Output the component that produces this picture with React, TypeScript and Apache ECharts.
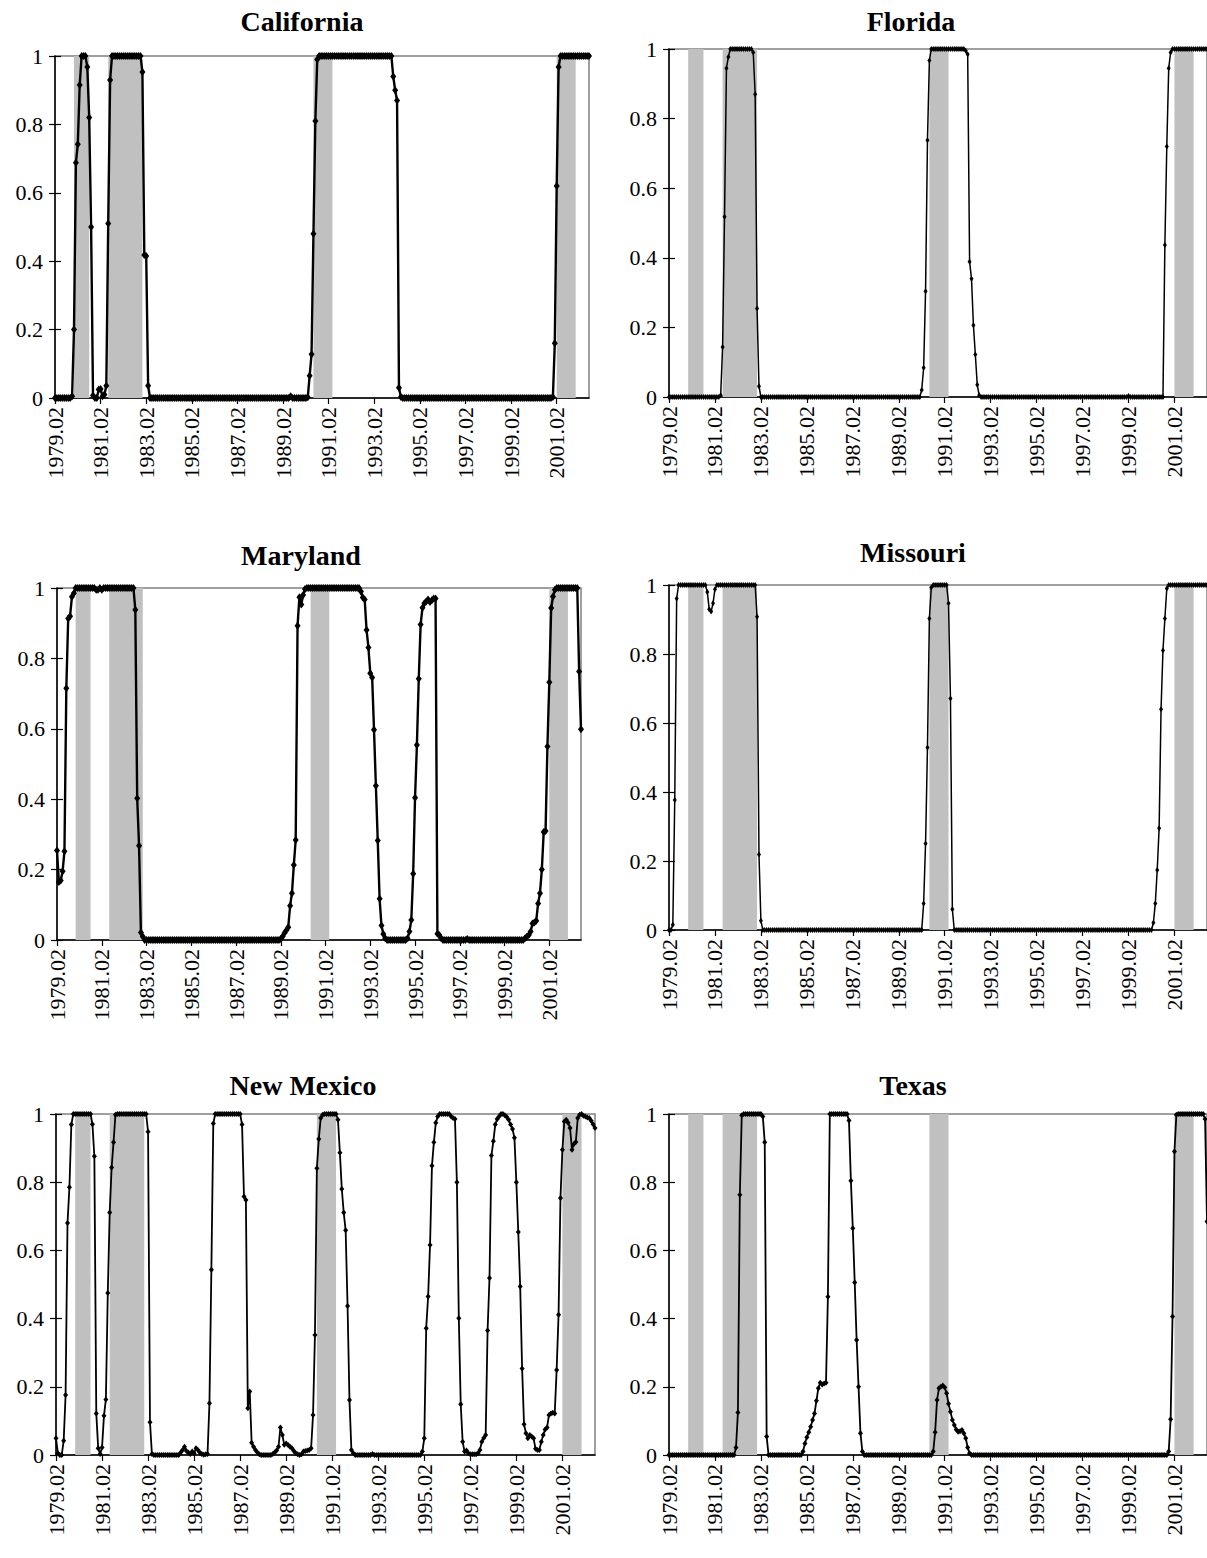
import React, { useEffect, useRef } from "react";
import * as echarts from "echarts";

// ---------- categories (monthly, 1979.02 .. 2002.07) ----------
const START_YEAR = 1979;
const START_MONTH = 2;
const N_MONTHS = 282;
const months: string[] = [];
for (let i = 0; i < N_MONTHS; i++) {
  const m = START_MONTH - 1 + i;
  const y = START_YEAR + Math.floor(m / 12);
  const mm = (m % 12) + 1;
  months.push(`${y}.${mm < 10 ? "0" + mm : mm}`);
}

// ---------- recession bands (shaded) ----------
const recessionStart = ["1979.12", "1981.06", "1990.06", "2001.02"];
const recessionEnd = ["1980.08", "1982.12", "1991.04", "2001.12"];

// ---------- series values (one row = 12 months, starting Feb) ----------
const california = [
  0, 0, 0, 0, 0, 0, 0, 0, 0, 0.005, 0.2, 0.688,
  0.742, 0.915, 1, 1, 1, 0.968, 0.82, 0.5, 0.007, 0, 0, 0.025,
  0.026, 0.005, 0.01, 0.036, 0.51, 0.93, 1, 1, 1, 1, 1, 1,
  1, 1, 1, 1, 1, 1, 1, 1, 1, 1, 0.953, 0.418,
  0.415, 0.036, 0, 0, 0, 0, 0, 0, 0, 0, 0, 0,
  0, 0, 0, 0, 0, 0, 0, 0, 0, 0, 0, 0,
  0, 0, 0, 0, 0, 0, 0, 0, 0, 0, 0, 0,
  0, 0, 0, 0, 0, 0, 0, 0, 0, 0, 0, 0,
  0, 0, 0, 0, 0, 0, 0, 0, 0, 0, 0, 0,
  0, 0, 0, 0, 0, 0, 0, 0, 0, 0, 0, 0,
  0, 0, 0, 0, 0.005, 0, 0, 0, 0, 0, 0, 0,
  0, 0.002, 0.065, 0.128, 0.48, 0.81, 0.99, 1, 1, 1, 1, 1,
  1, 1, 1, 1, 1, 1, 1, 1, 1, 1, 1, 1,
  1, 1, 1, 1, 1, 1, 1, 1, 1, 1, 1, 1,
  1, 1, 1, 1, 1, 1, 1, 1, 1, 1, 0.94, 0.9,
  0.87, 0.03, 0.003, 0, 0, 0, 0, 0, 0, 0, 0, 0,
  0, 0, 0, 0, 0, 0, 0, 0, 0, 0, 0, 0,
  0, 0, 0, 0, 0, 0, 0, 0, 0, 0, 0, 0,
  0, 0, 0, 0, 0, 0, 0, 0, 0, 0, 0, 0,
  0, 0, 0, 0, 0, 0, 0, 0, 0, 0, 0, 0,
  0, 0, 0, 0, 0, 0, 0, 0, 0, 0, 0, 0,
  0, 0, 0, 0, 0, 0, 0, 0, 0, 0, 0.003, 0.16,
  0.62, 0.968, 1, 1, 1, 1, 1, 1, 1, 1, 1, 1,
  1, 1, 1, 1, 1, 1,
];

const florida = [
  0, 0, 0, 0, 0, 0, 0, 0, 0, 0, 0, 0,
  0, 0, 0, 0, 0, 0, 0, 0, 0, 0, 0, 0,
  0, 0, 0, 0.005, 0.144, 0.518, 0.945, 0.977, 1, 1, 1, 1,
  1, 1, 1, 1, 1, 1, 1, 1, 0.99, 0.87, 0.254, 0.031,
  0, 0, 0, 0, 0, 0, 0, 0, 0, 0, 0, 0,
  0, 0, 0, 0, 0, 0, 0, 0, 0, 0, 0, 0,
  0, 0, 0, 0, 0, 0, 0, 0, 0, 0, 0, 0,
  0, 0, 0, 0, 0, 0, 0, 0, 0, 0, 0, 0,
  0, 0, 0, 0, 0, 0, 0, 0, 0, 0, 0, 0,
  0, 0, 0, 0, 0, 0, 0, 0, 0, 0, 0, 0,
  0, 0, 0, 0, 0, 0, 0, 0, 0, 0, 0, 0,
  0.02, 0.084, 0.304, 0.738, 0.967, 1, 1, 1, 1, 1, 1, 1,
  1, 1, 1, 1, 1, 1, 1, 1, 1, 1, 1, 0.995,
  0.985, 0.389, 0.34, 0.206, 0.122, 0.035, 0.005, 0, 0, 0, 0, 0,
  0, 0, 0, 0, 0, 0, 0, 0, 0, 0, 0, 0,
  0, 0, 0, 0, 0, 0, 0, 0, 0, 0, 0, 0,
  0, 0, 0, 0, 0, 0, 0, 0, 0, 0, 0, 0,
  0, 0, 0, 0, 0, 0, 0, 0, 0, 0, 0, 0,
  0, 0, 0, 0, 0, 0, 0, 0, 0, 0, 0, 0,
  0, 0, 0, 0, 0, 0, 0, 0, 0, 0, 0, 0,
  0.003, 0, 0, 0, 0, 0, 0, 0, 0, 0, 0, 0,
  0, 0, 0, 0, 0, 0, 0, 0.437, 0.72, 0.945, 0.99, 1,
  1, 1, 1, 1, 1, 1, 1, 1, 1, 1, 1, 1,
  1, 1, 1, 1, 1, 1,
];

const maryland = [
  0.254, 0.165, 0.169, 0.195, 0.252, 0.715, 0.913, 0.92, 0.975, 0.985, 1, 1,
  1, 1, 1, 1, 1, 1, 1, 1, 1, 0.995, 0.995, 1,
  0.995, 1, 1, 1, 1, 1, 1, 1, 1, 1, 1, 1,
  1, 1, 1, 1, 1, 1, 0.938, 0.403, 0.268, 0.021, 0.01, 0,
  0, 0, 0, 0, 0, 0, 0, 0, 0, 0, 0, 0,
  0, 0, 0, 0, 0, 0, 0, 0, 0, 0, 0, 0,
  0, 0, 0, 0, 0, 0, 0, 0, 0, 0, 0, 0,
  0, 0, 0, 0, 0, 0, 0, 0, 0, 0, 0, 0,
  0, 0, 0, 0, 0, 0, 0, 0, 0, 0, 0, 0,
  0, 0, 0, 0, 0, 0, 0, 0, 0, 0, 0, 0,
  0.003, 0.01, 0.02, 0.028, 0.036, 0.097, 0.133, 0.213, 0.284, 0.893, 0.974, 0.953,
  0.98, 0.997, 1, 1, 1, 1, 1, 1, 1, 1, 1, 1,
  1, 1, 1, 1, 1, 1, 1, 1, 1, 1, 1, 1,
  1, 1, 1, 1, 1, 1, 1, 0.99, 0.973, 0.967, 0.881, 0.831,
  0.758, 0.746, 0.597, 0.438, 0.283, 0.117, 0.041, 0.017, 0.005, 0, 0, 0,
  0, 0, 0, 0, 0, 0, 0, 0, 0.005, 0.024, 0.057, 0.188,
  0.404, 0.554, 0.742, 0.896, 0.944, 0.957, 0.962, 0.967, 0.96, 0.965, 0.97, 0.97,
  0.018, 0.014, 0.005, 0, 0, 0, 0, 0, 0, 0, 0, 0,
  0, 0, 0, 0, 0.003, 0, 0, 0, 0, 0, 0, 0,
  0, 0, 0, 0, 0, 0, 0, 0, 0, 0, 0, 0,
  0, 0, 0, 0, 0, 0, 0, 0, 0, 0, 0, 0.005,
  0.01, 0.014, 0.024, 0.047, 0.05, 0.055, 0.104, 0.133, 0.2, 0.307, 0.31, 0.55,
  0.732, 0.943, 0.976, 0.995, 1, 1, 1, 1, 1, 1, 1, 1,
  1, 1, 1, 1, 0.763, 0.599,
];

const missouri = [
  0, 0, 0.015, 0.377, 0.961, 1, 1, 1, 1, 1, 1, 1,
  1, 1, 1, 1, 1, 1, 1, 1, 0.98, 0.93, 0.923, 0.947,
  0.988, 1, 1, 1, 1, 1, 1, 1, 1, 1, 1, 1,
  1, 1, 1, 1, 1, 1, 1, 1, 1, 1, 0.908, 0.219,
  0.027, 0, 0, 0, 0, 0, 0, 0, 0, 0, 0, 0,
  0, 0, 0, 0, 0, 0, 0, 0, 0, 0, 0, 0,
  0, 0, 0, 0, 0, 0, 0, 0, 0, 0, 0, 0,
  0, 0, 0, 0, 0, 0, 0, 0, 0, 0, 0, 0,
  0, 0, 0, 0, 0, 0, 0, 0, 0, 0, 0, 0,
  0, 0, 0, 0, 0, 0, 0, 0, 0, 0, 0, 0,
  0, 0, 0, 0, 0, 0, 0, 0, 0, 0, 0, 0,
  0, 0.077, 0.251, 0.529, 0.903, 0.993, 1, 1, 1, 1, 1, 1,
  1, 1, 0.947, 0.671, 0.06, 0, 0, 0, 0, 0, 0, 0,
  0, 0, 0, 0, 0, 0, 0, 0, 0, 0, 0, 0,
  0, 0, 0, 0, 0, 0, 0, 0, 0, 0, 0, 0,
  0, 0, 0, 0, 0, 0, 0, 0, 0, 0, 0, 0,
  0, 0, 0, 0, 0, 0, 0, 0, 0, 0, 0, 0,
  0, 0, 0, 0, 0, 0, 0, 0, 0, 0, 0, 0,
  0, 0, 0, 0, 0, 0, 0, 0, 0, 0, 0, 0,
  0, 0, 0, 0, 0, 0, 0, 0, 0, 0, 0, 0,
  0, 0, 0, 0, 0, 0, 0, 0, 0, 0, 0, 0,
  0, 0.021, 0.077, 0.174, 0.295, 0.64, 0.81, 0.903, 0.99, 1, 1, 1,
  1, 1, 1, 1, 1, 1, 1, 1, 1, 1, 1, 1,
  1, 1, 1, 1, 1, 1,
];

const newMexico = [
  0.049, 0.005, 0, 0, 0.042, 0.176, 0.68, 0.785, 0.969, 1, 1, 1,
  1, 1, 1, 1, 1, 1, 1, 0.97, 0.876, 0.122, 0.02, 0.003,
  0.022, 0.115, 0.163, 0.475, 0.711, 0.843, 0.917, 0.998, 1, 1, 1, 1,
  1, 1, 1, 1, 1, 1, 1, 1, 1, 1, 1, 1,
  0.948, 0.096, 0.003, 0, 0, 0, 0, 0, 0, 0, 0, 0,
  0, 0, 0, 0, 0, 0.007, 0.015, 0.024, 0.012, 0.007, 0.003, 0.01,
  0.005, 0.02, 0.015, 0.007, 0.003, 0.001, 0.002, 0.003, 0.152, 0.543, 0.972, 1,
  1, 1, 1, 1, 1, 1, 1, 1, 1, 1, 1, 1,
  1, 0.969, 0.758, 0.748, 0.137, 0.186, 0.036, 0.024, 0.015, 0.007, 0.002, 0,
  0, 0, 0, 0, 0, 0.003, 0.007, 0.013, 0.024, 0.081, 0.059, 0.03,
  0.034, 0.029, 0.024, 0.02, 0.012, 0.005, 0.002, 0, 0.002, 0.01, 0.012, 0.013,
  0.015, 0.02, 0.117, 0.352, 0.841, 0.927, 0.988, 0.998, 1, 1, 1, 1,
  1, 1, 1, 0.983, 0.886, 0.78, 0.711, 0.659, 0.437, 0.161, 0.015, 0.005,
  0, 0, 0, 0, 0, 0, 0, 0, 0, 0.003, 0, 0,
  0, 0, 0, 0, 0, 0, 0, 0, 0, 0, 0, 0,
  0, 0, 0, 0, 0, 0, 0, 0, 0, 0, 0, 0.01,
  0.049, 0.372, 0.465, 0.616, 0.848, 0.917, 0.974, 0.993, 1, 1, 1, 1,
  1, 1, 0.993, 0.988, 0.985, 0.8, 0.401, 0.149, 0.039, 0.01, 0.013, 0.005,
  0.002, 0.002, 0.002, 0.002, 0.005, 0.015, 0.039, 0.05, 0.059, 0.365, 0.519, 0.878,
  0.92, 0.969, 0.985, 0.993, 1, 1, 0.996, 0.991, 0.983, 0.969, 0.956, 0.93,
  0.8, 0.654, 0.494, 0.254, 0.09, 0.064, 0.049, 0.059, 0.054, 0.049, 0.018, 0.015,
  0.015, 0.039, 0.059, 0.075, 0.081, 0.117, 0.122, 0.124, 0.122, 0.249, 0.411, 0.754,
  0.895, 0.978, 0.983, 0.974, 0.959, 0.895, 0.912, 0.918, 0.988, 0.998, 1, 0.995,
  0.993, 0.99, 0.988, 0.98, 0.97, 0.959,
];

const texas = [
  0, 0, 0, 0, 0, 0, 0, 0, 0, 0, 0, 0,
  0, 0, 0, 0, 0, 0, 0, 0, 0, 0, 0, 0,
  0, 0, 0, 0, 0, 0, 0, 0, 0, 0, 0, 0.022,
  0.125, 0.763, 0.996, 1, 1, 1, 1, 1, 1, 1, 1, 1,
  1, 0.993, 0.917, 0.054, 0, 0, 0, 0, 0, 0, 0, 0,
  0, 0, 0, 0, 0, 0, 0, 0, 0, 0, 0.01, 0.034,
  0.052, 0.067, 0.083, 0.103, 0.122, 0.159, 0.196, 0.212, 0.207, 0.21, 0.212, 0.464,
  1, 1, 1, 1, 1, 1, 1, 1, 1, 1, 0.981, 0.804,
  0.665, 0.506, 0.337, 0.2, 0.064, 0.01, 0, 0, 0, 0, 0, 0,
  0, 0, 0, 0, 0, 0, 0, 0, 0, 0, 0, 0,
  0, 0, 0, 0, 0, 0, 0, 0, 0, 0, 0, 0,
  0, 0, 0, 0, 0, 0, 0.01, 0.067, 0.161, 0.196, 0.2, 0.204,
  0.198, 0.181, 0.15, 0.127, 0.103, 0.088, 0.075, 0.068, 0.07, 0.073, 0.064, 0.049,
  0.022, 0.005, 0, 0, 0, 0, 0, 0, 0, 0, 0, 0,
  0, 0, 0, 0, 0, 0, 0, 0, 0, 0, 0, 0,
  0, 0, 0, 0, 0, 0, 0, 0, 0, 0, 0, 0,
  0, 0, 0, 0, 0, 0, 0, 0, 0, 0, 0, 0,
  0, 0, 0, 0, 0, 0, 0, 0, 0, 0, 0, 0,
  0, 0, 0, 0, 0, 0, 0, 0, 0, 0, 0, 0,
  0, 0, 0, 0, 0, 0, 0, 0, 0, 0, 0, 0,
  0, 0, 0, 0, 0, 0, 0, 0, 0, 0, 0, 0,
  0, 0, 0, 0, 0, 0, 0, 0, 0, 0.01, 0.105, 0.406,
  0.89, 0.998, 1, 1, 1, 1, 1, 1, 1, 1, 1, 1,
  1, 1, 1, 1, 0.985, 0.685,
];

const stateNames = ["California", "Florida", "Maryland", "Missouri", "New Mexico", "Texas"];
const stateValues = [california, florida, maryland, missouri, newMexico, texas];

// ---------- layout / style (per panel) ----------
const layout = [
  { tx: 302, ty: 21, left: 55, top: 56, width: 534, height: 342, lw: 2.4, ss: [6, 8] },
  { tx: 911, ty: 21, left: 669, top: 49, width: 539, height: 348, lw: 1.5, ss: [4, 6] },
  { tx: 301, ty: 555, left: 57, top: 588, width: 524, height: 352, lw: 2.4, ss: [6, 8] },
  { tx: 913, ty: 552, left: 669, top: 585, width: 539, height: 345, lw: 1.5, ss: [4, 6] },
  { tx: 303, ty: 1085, left: 56, top: 1114, width: 539, height: 341, lw: 1.8, ss: [5, 6] },
  { tx: 913, ty: 1085, left: 669, top: 1114, width: 538, height: 341, lw: 1.8, ss: [5, 6] },
];

const FONT = "'Liberation Serif', 'Times New Roman', serif";
const TICK_FONT_SIZE = 22;
const TITLE_FONT_SIZE = 28;

export default function App() {
  const ref = useRef<HTMLDivElement>(null);

  useEffect(() => {
    if (!ref.current) return;
    const chart = echarts.init(ref.current, null, { renderer: "svg" });

    const bandData = recessionStart.map((s, k) => [{ xAxis: s }, { xAxis: recessionEnd[k] }]);

    const mainY = layout.map((l, i) => ({
      type: "value",
      gridIndex: i,
      position: "left",
      min: 0,
      max: 1,
      interval: 0.2,
      axisLine: { show: true, lineStyle: { color: "#000", width: 1.5 } },
      axisTick: { show: true, length: 6, lineStyle: { color: "#000", width: 1.2 } },
      axisLabel: { fontFamily: FONT, fontSize: TICK_FONT_SIZE, color: "#000", margin: 12 },
      splitLine: { show: false },
    }));
    // inner half of the crossing tick marks
    const innerTickY = layout.map((l, i) => ({
      type: "value",
      gridIndex: i,
      position: "left",
      offset: 0,
      min: 0,
      max: 1,
      interval: 0.2,
      axisLine: { show: false },
      axisTick: { show: true, inside: true, length: 6, lineStyle: { color: "#000", width: 1.2 } },
      axisLabel: { show: false },
      splitLine: { show: false },
    }));

    const option: any = {
      animation: false,
      backgroundColor: "#ffffff",
      grid: layout.map((l) => ({
        left: l.left,
        top: l.top,
        width: l.width,
        height: l.height,
        show: true,
        borderColor: "#808080",
        borderWidth: 1.5,
        backgroundColor: "transparent",
        containLabel: false,
      })),
      xAxis: layout.map((l, i) => ({
        type: "category",
        gridIndex: i,
        data: months,
        boundaryGap: false,
        axisLine: { onZero: false, lineStyle: { color: "#000", width: 1.5 } },
        axisTick: { show: true, interval: 23, length: 6, lineStyle: { color: "#000", width: 1.2 } },
        axisLabel: {
          interval: 23,
          rotate: 90,
          fontFamily: FONT,
          fontSize: TICK_FONT_SIZE,
          color: "#000",
          margin: 9,
        },
        splitLine: { show: false },
      })),
      yAxis: [...mainY, ...innerTickY],
      series: stateValues.map((vals, i) => ({
        type: "line",
        name: stateNames[i],
        xAxisIndex: i,
        yAxisIndex: i,
        data: vals,
        symbol: "diamond",
        symbolSize: layout[i].ss,
        showAllSymbol: true,
        lineStyle: { color: "#000", width: layout[i].lw },
        itemStyle: { color: "#000" },
        emphasis: { disabled: true },
        silent: true,
        markArea: {
          silent: true,
          itemStyle: { color: "#c0c0c0" },
          data: bandData,
        },
      })),
      graphic: stateNames.map((name, i) => ({
        type: "text",
        x: layout[i].tx,
        y: layout[i].ty,
        style: {
          text: name,
          font: `bold ${TITLE_FONT_SIZE}px ${FONT}`,
          fill: "#000",
          textAlign: "center",
          textVerticalAlign: "middle",
          align: "center",
          verticalAlign: "middle",
        },
      })),
    };

    chart.setOption(option);
    return () => chart.dispose();
  }, []);

  return (
    <div
      ref={ref}
      style={{ position: "absolute", left: 0, top: 0, width: 1207, height: 1558, background: "#fff" }}
    />
  );
}
